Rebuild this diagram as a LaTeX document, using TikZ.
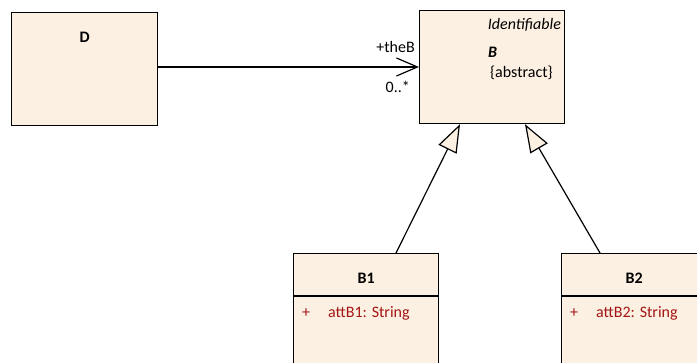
\documentclass[tikz,border=0pt]{standalone}
\usepackage{fontspec}
\setmainfont{Carlito}
\usetikzlibrary{arrows.meta,calc}

\definecolor{classfill}{RGB}{251,240,226}
\definecolor{attred}{RGB}{163,21,21}

\begin{document}
\begin{tikzpicture}[x=1pt,y=-1pt,
    every node/.style={font=\fontsize{16}{19}\selectfont},
    umlclass/.style={draw, fill=classfill, line width=1.2pt, inner sep=0pt,
        anchor=north west},
    association/.style={line width=1.2pt, -{Straight Barb[length=21pt,width=18pt,line width=1.2pt]}},
    generalization/.style={line width=1.2pt,
        -{Triangle[open,length=28pt,width=20pt,fill=classfill,line width=1.2pt]}},
    attribute/.style={text=attred, anchor=west, inner sep=0pt},
]

    \useasboundingbox (0,0) rectangle (697,363);
    \clip (0,0) rectangle (697,363);

    % classes
    \node [umlclass, minimum width=146pt, minimum height=113pt] (D) at (11,12) {};
    \node [umlclass, minimum width=145pt, minimum height=113pt] (B) at (419,10) {};
    \node [umlclass, minimum width=145pt, minimum height=150pt] (B1) at (293,253) {};
    \node [umlclass, minimum width=145pt, minimum height=150pt] (B2) at (561,253) {};

    % compartments
    \draw [line width=1.1pt] ($(B1.north west)+(0,43)$) -- ($(B1.north east)+(0,43)$);
    \draw [line width=1.1pt] ($(B2.north west)+(0,43)$) -- ($(B2.north east)+(0,43)$);

    % names
    \node [font=\fontsize{16}{19}\selectfont\bfseries] (Dname) at ($(D.north)+(0,25)$) {D};
    \node [font=\fontsize{16}{19}\selectfont\itshape, anchor=east, inner sep=0pt]
        (Bstereo) at ($(B.north east)+(-4,15)$) {Identifiable};
    \node [font=\fontsize{16}{19}\selectfont\bfseries\itshape, anchor=west, inner sep=0pt]
        (Bname) at ($(B.north west)+(69,42)$) {B};
    \node [anchor=west, inner sep=0pt] (Babstract) at ($(B.north west)+(71,63)$) {\{abstract\}};
    \node [font=\fontsize{16}{19}\selectfont\bfseries] (B1name) at ($(B1.north)+(0,25)$) {B1};
    \node [font=\fontsize{16}{19}\selectfont\bfseries] (B2name) at ($(B2.north)+(0,25)$) {B2};

    % attributes
    \node [attribute] (B1vis) at ($(B1.north west)+(9,60)$) {+};
    \node [attribute] (B1att) at ($(B1.north west)+(35,60)$) {attB1: String};
    \node [attribute] (B2vis) at ($(B2.north west)+(9,60)$) {+};
    \node [attribute] (B2att) at ($(B2.north west)+(35,60)$) {attB2: String};

    % association
    \coordinate (Dout) at ($(D.north east)+(0,55)$);
    \coordinate (Bin) at ($(B.north west)+(0,57)$);
    \draw [association] (Dout) -- (Bin);
    \node [anchor=east, inner sep=0pt] (role) at ($(Bin)+(-4,-20)$) {+theB};
    \node [anchor=east, inner sep=0pt] (mult) at ($(Bin)+(-9,20)$) {0..*};

    % generalizations
    \coordinate (B1top) at ($(B1.north west)+(103,0)$);
    \coordinate (B2top) at ($(B2.north west)+(39,0)$);
    \coordinate (Bleft) at ($(B.south west)+(41,0)$);
    \coordinate (Bright) at ($(B.south west)+(106,0)$);
    \draw [generalization] (B1top) -- (Bleft);
    \draw [generalization] (B2top) -- (Bright);

\end{tikzpicture}
\end{document}
